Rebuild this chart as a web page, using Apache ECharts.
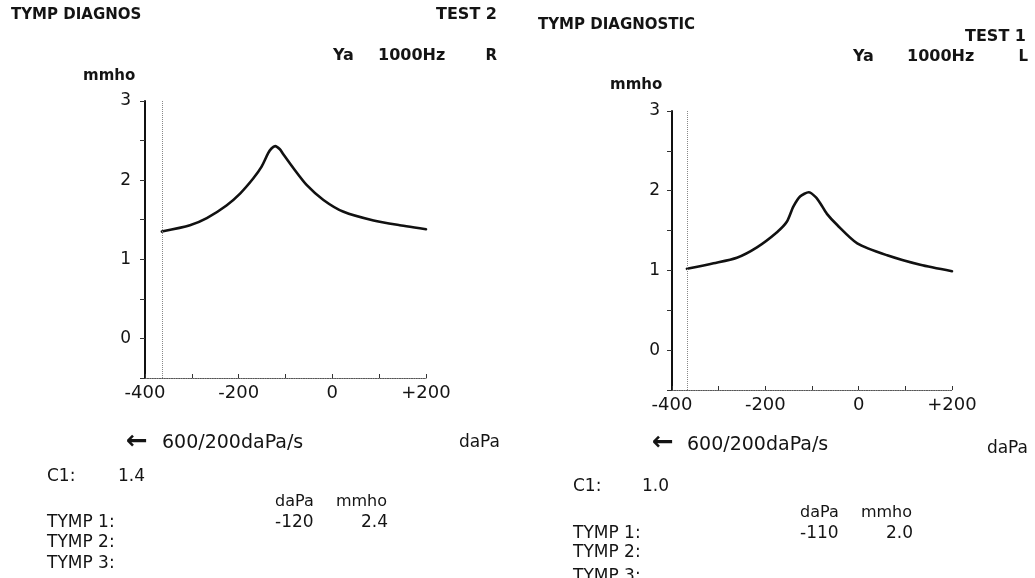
<!DOCTYPE html>
<html>
<head>
<meta charset="utf-8">
<script src="https://cdn.jsdelivr.net/npm/echarts@6/dist/echarts.min.js"></script>
<style>
html,body{margin:0;padding:0;background:#fff;}
#chart{width:1035px;height:578px;}
</style>
</head>
<body>
<div id="chart"></div>
<script>
// ---- Data ----
// Left panel: TEST 2, right ear (R)
var leftPressure    = [-364, -304, -268, -226, -197, -169, -151, -137, -130, -122, -112, -105, -83, -55, -19, 24, 88, 144, 200];
var leftAdmittance  = [1.35, 1.43, 1.52, 1.68, 1.83, 2.02, 2.17, 2.34, 2.40, 2.43, 2.39, 2.33, 2.15, 1.94, 1.75, 1.60, 1.49, 1.43, 1.38];
// Right panel: TEST 1, left ear (L)
var rightPressure   = [-368, -311, -261, -218, -175, -154, -140, -125, -107, -92, -82, -68, -46, -3, 61, 132, 200];
var rightAdmittance = [1.02, 1.09, 1.16, 1.29, 1.48, 1.61, 1.80, 1.93, 1.98, 1.92, 1.84, 1.71, 1.57, 1.34, 1.19, 1.07, 0.99];
// Start-of-sweep marker (dotted vertical line)
var leftStartPressure = -364;
var rightStartPressure = -368;
// Axis tick labels
var xTickValues = [-400, -200, 0, 200];
var xTickLabels = ['-400', '-200', '0', '+200'];
var yTickValues = [0, 1, 2, 3];
var yTickLabels = ['0', '1', '2', '3'];
// Summary values
var leftC1 = '1.4', leftPeakP = '-120', leftPeakY = '2.4';
var rightC1 = '1.0', rightPeakP = '-110', rightPeakY = '2.0';

function pairs(xs, ys){ return xs.map(function(x,i){ return [x, ys[i]]; }); }
function xFmt(v){ var i = xTickValues.indexOf(v); return i >= 0 ? xTickLabels[i] : ''; }
function yFmt(v){ var i = yTickValues.indexOf(v); return i >= 0 ? yTickLabels[i] : ''; }

var FONT = 'DejaVu Sans';
var INK = '#141414';

function xAxis(idx){
  return {
    type: 'value', gridIndex: idx, min: -400, max: 200, interval: 100,
    axisLine: {show: true, onZero: false, lineStyle: {color: '#555', width: 1.2, type: 'dotted'}},
    axisTick: {show: true, inside: true, length: 4, lineStyle: {color: '#333', width: 1}},
    axisLabel: {formatter: xFmt, fontFamily: FONT, fontSize: 18, color: INK, margin: 6, showMinLabel: true, showMaxLabel: true},
    splitLine: {show: false}
  };
}
function yAxis(idx, margin){
  return {
    type: 'value', gridIndex: idx, min: -0.5, max: 3, interval: 0.5,
    axisLine: {show: true, onZero: false, lineStyle: {color: '#111', width: 2}},
    axisTick: {show: true, inside: false, length: 5, lineStyle: {color: '#333', width: 1}},
    axisLabel: {formatter: yFmt, fontFamily: FONT, fontSize: 17, color: INK, margin: margin},
    splitLine: {show: false}
  };
}
function curve(idx, xs, ys, startP){
  return {
    type: 'line', xAxisIndex: idx, yAxisIndex: idx,
    data: pairs(xs, ys), smooth: 0.25, showSymbol: false, symbol: 'none',
    lineStyle: {color: '#111', width: 2.6, join: 'round', cap: 'round'},
    animation: false,
    markLine: {
      silent: true, symbol: ['none','none'], animation: false,
      label: {show: false},
      lineStyle: {color: '#888', width: 1, type: 'dotted'},
      data: [{xAxis: startP}]
    }
  };
}

function txt(x, y, s, opt){
  opt = opt || {};
  return {
    type: 'text', x: x, y: y,
    style: {
      text: s, x: 0, y: 0,
      fontFamily: FONT, fontSize: opt.size || 17, fontWeight: opt.bold ? 'bold' : 'normal',
      fill: INK, align: opt.align || 'left', verticalAlign: 'middle'
    }
  };
}

var graphics = [
  // Left panel header
  txt(11, 15, 'TYMP DIAGNOS', {bold: true, size: 15}),
  txt(497, 15, 'TEST 2', {bold: true, size: 16, align: 'right'}),
  txt(333, 56, 'Ya', {bold: true, size: 16}),
  txt(378, 56, '1000Hz', {bold: true, size: 16}),
  txt(497, 56, 'R', {bold: true, size: 15, align: 'right'}),
  txt(83, 76, 'mmho', {size: 15, bold: true}),
  // Left panel footer
  txt(126, 442, '←', {size: 26, bold: true}),
  txt(162, 443, '600/200daPa/s', {size: 19}),
  txt(500, 443, 'daPa', {size: 17, align: 'right'}),
  txt(47, 477, 'C1:', {size: 17}),
  txt(118, 477, leftC1, {size: 17}),
  txt(275, 502, 'daPa', {size: 16}),
  txt(387, 502, 'mmho', {size: 16, align: 'right'}),
  txt(47, 523, 'TYMP 1:', {size: 17}),
  txt(275, 523, leftPeakP, {size: 17}),
  txt(388, 523, leftPeakY, {size: 17, align: 'right'}),
  txt(47, 543, 'TYMP 2:', {size: 17}),
  txt(47, 564, 'TYMP 3:', {size: 17}),
  // Right panel header
  txt(538, 25, 'TYMP DIAGNOSTIC', {bold: true, size: 15}),
  txt(1026, 37, 'TEST 1', {bold: true, size: 16, align: 'right'}),
  txt(853, 57, 'Ya', {bold: true, size: 16}),
  txt(907, 57, '1000Hz', {bold: true, size: 16}),
  txt(1028, 57, 'L', {bold: true, size: 15, align: 'right'}),
  txt(610, 85, 'mmho', {size: 15, bold: true}),
  // Right panel footer
  txt(652, 443, '←', {size: 26, bold: true}),
  txt(687, 445, '600/200daPa/s', {size: 19}),
  txt(1028, 449, 'daPa', {size: 17, align: 'right'}),
  txt(573, 487, 'C1:', {size: 17}),
  txt(642, 487, rightC1, {size: 17}),
  txt(800, 513, 'daPa', {size: 16}),
  txt(912, 513, 'mmho', {size: 16, align: 'right'}),
  txt(573, 534, 'TYMP 1:', {size: 17}),
  txt(800, 534, rightPeakP, {size: 17}),
  txt(913, 534, rightPeakY, {size: 17, align: 'right'}),
  txt(573, 553, 'TYMP 2:', {size: 17}),
  txt(573, 577, 'TYMP 3:', {size: 17})
];

var chart = echarts.init(document.getElementById('chart'), null, {renderer: 'canvas'});
chart.setOption({
  backgroundColor: '#fff',
  animation: false,
  grid: [
    {left: 145, top: 101, width: 281, height: 277},
    {left: 672, top: 111, width: 280, height: 279}
  ],
  xAxis: [xAxis(0), xAxis(1)],
  yAxis: [yAxis(0, 14), yAxis(1, 12)],
  series: [
    curve(0, leftPressure, leftAdmittance, leftStartPressure),
    curve(1, rightPressure, rightAdmittance, rightStartPressure)
  ],
  graphic: graphics
});
</script>
</body>
</html>
